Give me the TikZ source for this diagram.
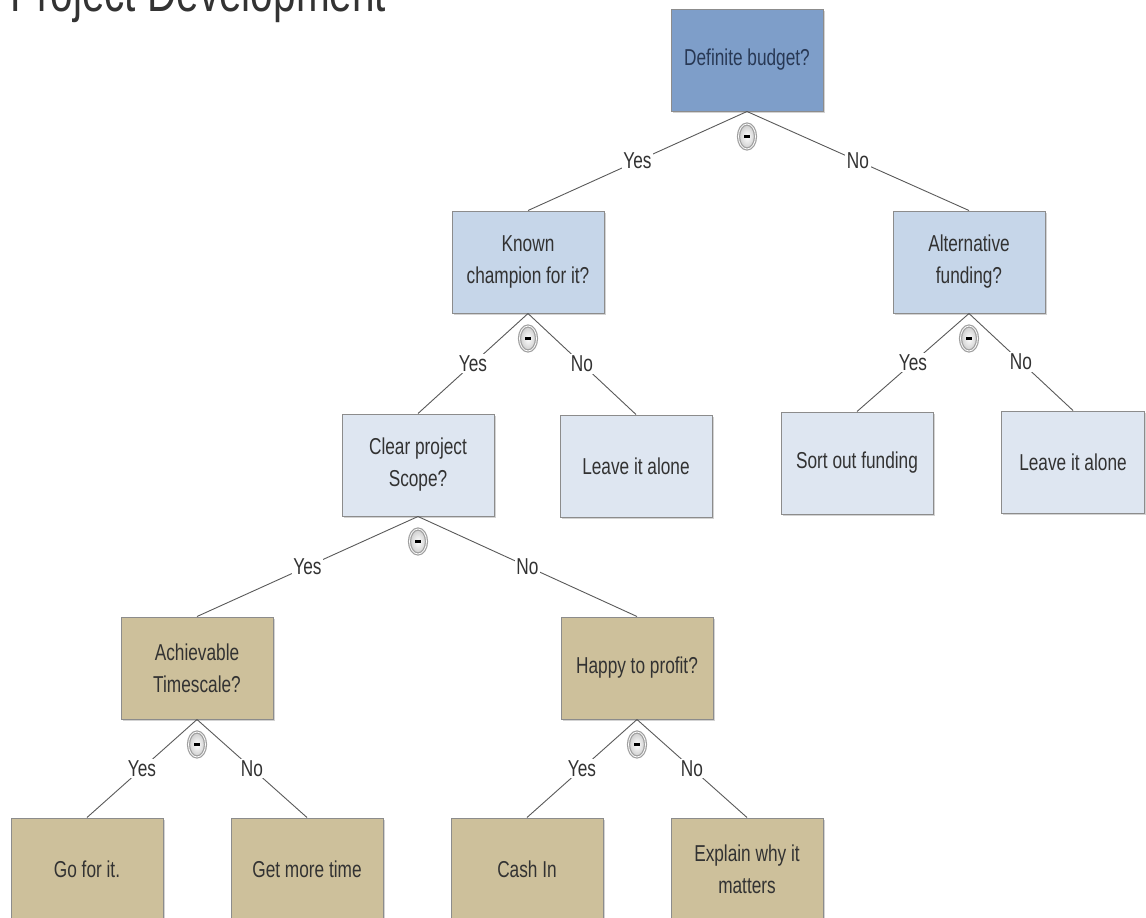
\documentclass[tikz,border=0pt]{standalone}
\usepackage{fontspec}
\setmainfont[FakeStretch=0.75]{Liberation Sans}
\usetikzlibrary{shapes.geometric,shadows}

\definecolor{rootblue}{RGB}{126,158,201}
\definecolor{midblue}{RGB}{198,214,233}
\definecolor{paleblue}{RGB}{222,230,241}
\definecolor{boxtan}{RGB}{205,192,155}
\definecolor{boxline}{RGB}{140,140,140}
\definecolor{txtgray}{RGB}{50,50,50}
\definecolor{rootink}{RGB}{40,56,84}

\tikzset{
  box/.style={draw=boxline, line width=1pt, minimum width=152pt,
    minimum height=102pt, align=center, text=txtgray,
    font=\fontsize{23}{32}\selectfont,
    drop shadow={shadow xshift=1.5pt, shadow yshift=-2pt, opacity=0.35}},
  rootbox/.style={box, fill=rootblue, text=rootink},
  midbox/.style={box, fill=midblue},
  palebox/.style={box, fill=paleblue},
  tanbox/.style={box, fill=boxtan},
  branch/.style={draw=gray!70!black, line width=0.9pt},
  ans/.style={fill=white, inner sep=1.5pt, text=txtgray,
    font=\fontsize{23}{32}\selectfont},
  collapse/.style={ellipse, draw=gray!75, line width=1.2pt, inner color=white,
    outer color=gray!40, minimum width=17pt, minimum height=25pt, inner sep=0pt,
    double=white, double distance=0.8pt}
}

\begin{document}
\begin{tikzpicture}[x=1pt, y=-1pt]
  \useasboundingbox (0,0) rectangle (1146,918);
  % Title, cut by the top edge
  \node[anchor=base west, inner sep=0pt, text=black!80,
    font=\fontsize{54}{60}\selectfont] (title) at (10,12) {Project Development};
  % Questions
  \node[rootbox] (root) at (747,60) {Definite budget?};
  \node[midbox] (champ) at (528,262) {Known\\champion for it?};
  \node[midbox] (alt) at (969,262) {Alternative\\funding?};
  \node[palebox] (scope) at (418,465) {Clear project\\Scope?};
  \node[palebox] (leaveA) at (636,466) {Leave it alone};
  \node[palebox] (sortfund) at (857,463) {Sort out funding};
  \node[palebox, minimum width=143pt] (leaveB) at (1073,462) {Leave it alone};
  \node[tanbox] (achiev) at (197,668) {Achievable\\Timescale?};
  \node[tanbox] (happy) at (637,668) {Happy to profit?};
  % Answers
  \node[tanbox] (gofor) at (87,869) {Go for it.};
  \node[tanbox] (moretime) at (307,869) {Get more time};
  \node[tanbox] (cashin) at (527,869) {Cash In};
  \node[tanbox] (explain) at (747,869) {Explain why it\\matters};
  % Branches with Yes/No
  \foreach \p/\c/\t in {root/champ/Yes, root/alt/No, champ/scope/Yes,
      champ/leaveA/No, alt/sortfund/Yes, alt/leaveB/No, scope/achiev/Yes,
      scope/happy/No, achiev/gofor/Yes, achiev/moretime/No,
      happy/cashin/Yes, happy/explain/No}
    \draw[branch] (\p.south) -- node[ans] {\t} (\c.north);
  % Collapse buttons
  \foreach \p in {root,champ,alt,scope,achiev,happy}
    \node[collapse] (c-\p) at ([yshift=-25pt]\p.south) {\rule{6pt}{3pt}};
\end{tikzpicture}
\end{document}
